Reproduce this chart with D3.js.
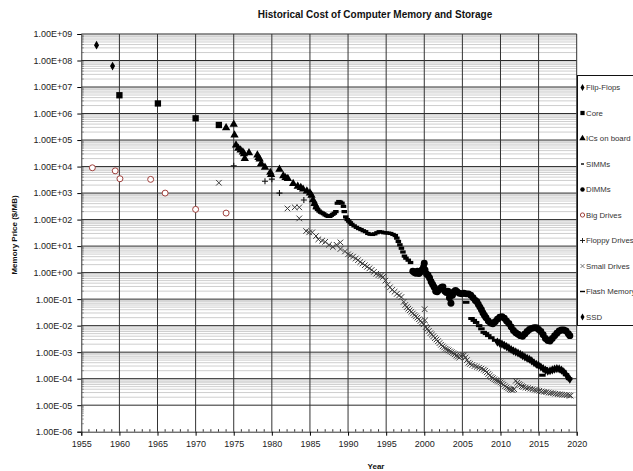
<!DOCTYPE html>
<html><head><meta charset="utf-8">
<script src="https://cdn.jsdelivr.net/npm/d3@7"></script>
<style>body{margin:0;background:#fff}svg{display:block}text{font-family:"Liberation Sans",Arial,sans-serif}</style>
</head><body><svg id="c" width="633" height="471"></svg>
<script>
// ---------- DATA ----------
const title = "Historical Cost of Computer Memory and Storage";
const yTitle = "Memory Price ($/MB)";
const xTitle = "Year";
const xTickValues = [1955,1960,1965,1970,1975,1980,1985,1990,1995,2000,2005,2010,2015,2020];
const xTickLabels = ["1955","1960","1965","1970","1975","1980","1985","1990","1995","2000","2005","2010","2015","2020"];
const yTickValues = [1e9,1e8,1e7,1e6,1e5,1e4,1e3,1e2,1e1,1e0,1e-1,1e-2,1e-3,1e-4,1e-5,1e-6];
const yTickLabels = ["1.00E+09","1.00E+08","1.00E+07","1.00E+06","1.00E+05","1.00E+04","1.00E+03","1.00E+02","1.00E+01","1.00E+00","1.00E-01","1.00E-02","1.00E-03","1.00E-04","1.00E-05","1.00E-06"];
const seriesNames = ["Flip-Flops","Core","ICs on board","SIMMs","DIMMs","Big Drives","Floppy Drives","Small Drives","Flash Memory","SSD"];

const flipFlops = [[1957.0,3.8e8],[1959.1,6.2e7]];
const core = [[1960.0,4.9e6],[1965.05,2.4e6],[1970.0,6.6e5],[1973.05,3.7e5]];
const icsOnBoard = [[1974.0,2.9e5],[1975.0,3.9e5],[1975.1,1.55e5],[1975.3,6.5e4],[1975.6,4.9e4],[1975.9,4.2e4],
 [1976.2,3.5e4],[1976.35,3.0e4],[1976.45,2.0e4],[1977.0,3.3e4],[1978.1,2.7e4],[1978.25,2.2e4],[1978.4,1.9e4],
 [1978.6,1.3e4],[1979.1,9.3e3],[1979.8,6.0e3],[1979.9,5.0e3],[1981.0,7.8e3],[1981.5,4.5e3],[1981.8,3.8e3],
 [1982.1,3.5e3],[1982.8,2.3e3],[1983.4,1.8e3],[1983.8,1.6e3],[1984.1,1.4e3],[1984.6,1.2e3],[1985.0,1.0e3],
 [1985.2,8.3e2],[1985.4,5.5e2],[1985.6,4.0e2],[1985.85,3.0e2]];
const simms = [[1985.6,400],[1985.8,280],[1986.0,240],[1986.2,210],[1986.4,190],[1986.6,178],[1986.8,166],
 [1987.0,150],[1987.2,141],[1987.4,132],[1987.6,132],[1987.8,145],[1988.0,158],[1988.2,174],[1988.4,200],
 [1988.6,415],[1988.8,480],[1989.0,455],[1989.2,415],[1989.4,316],[1989.5,200],[1989.7,126],[1989.9,100],
 [1990.1,87],[1990.3,76],[1990.5,66],[1990.8,58],[1991.1,51],[1991.4,46],[1991.7,42],[1992.0,38],[1992.3,35],
 [1992.6,30],[1992.9,28],[1993.2,27.5],[1993.5,29],[1993.8,32],[1994.1,35],[1994.4,34],[1994.7,32],[1995.0,31.6],
 [1995.3,31],[1995.6,30],[1995.9,27.5],[1996.2,25],[1996.4,20],[1996.6,15],[1996.8,11.2],[1997.0,8.3],
 [1997.2,6.0],[1997.4,4.2],[1997.6,3.5],[1997.9,2.95],[1998.2,2.4]];
const dimms = [[1998.5,1.12],[1998.7,1.0],[1998.9,0.95],[1999.1,1.12],[1999.3,0.93],[1999.5,1.05],[1999.7,1.26],
 [1999.9,1.58],[2000.0,2.24],[2000.1,1.26],[2000.3,0.89],[2000.5,0.79],[2000.7,0.63],[2000.9,0.45],[2001.1,0.355],
 [2001.3,0.28],[2001.5,0.2],[2001.7,0.19],[2001.9,0.22],[2002.1,0.25],[2002.3,0.28],[2002.45,0.29],[2002.7,0.2],
 [2002.9,0.178],[2003.1,0.2],[2003.3,0.112],[2003.5,0.07],[2003.7,0.14],[2003.9,0.19],[2004.1,0.21],[2004.3,0.19],
 [2004.6,0.166],[2004.9,0.158],[2005.2,0.166],[2005.5,0.158],[2005.8,0.158],[2006.1,0.141],[2006.4,0.112],
 [2006.7,0.089],[2006.9,0.079],[2007.1,0.063],[2007.3,0.05],[2007.5,0.04],[2007.7,0.03],[2007.9,0.024],[2008.1,0.02],
 [2008.4,0.015],[2008.7,0.0126],[2009.0,0.0117],[2009.3,0.0141],[2009.6,0.0174],[2009.9,0.0209],[2010.2,0.0219],
 [2010.5,0.019],[2010.8,0.0151],[2011.1,0.012],[2011.4,0.0089],[2011.7,0.0066],[2012.0,0.0054],[2012.3,0.0047],
 [2012.6,0.0042],[2012.9,0.004],[2013.2,0.0048],[2013.5,0.006],[2013.8,0.0071],[2014.1,0.0079],[2014.4,0.0083],
 [2014.7,0.0083],[2015.0,0.0072],[2015.3,0.006],[2015.6,0.0045],[2015.9,0.0033],[2016.2,0.00275],[2016.5,0.00263],
 [2016.8,0.0033],[2017.1,0.0042],[2017.4,0.0052],[2017.7,0.0063],[2018.0,0.0068],[2018.3,0.0069],[2018.6,0.0063],
 [2018.9,0.005],[2019.1,0.0042]];
const bigDrives = [[1956.45,9000],[1959.45,6900],[1960.07,3470],[1964.1,3290],[1966.0,1000],[1970.0,243],[1974.0,176]];
const floppyDrives = [[1975.0,1.07e4],[1979.1,2800],[1980.0,3350],[1981.0,1000],[1984.2,550]];
const smallDrives = [[1973.05,2450],[1982.05,263],[1983.0,290],[1983.6,290],[1983.6,111],[1984.5,37],[1984.9,33],
 [1985.3,33],[1985.8,24],[1986.1,18],[1986.6,16],[1987.0,14.5],[1987.5,11.2],[1988.0,9.3],[1988.5,11.2],[1989.0,13.8],
 [1989.0,7.8],[1989.6,6.3],[1990.0,4.9],[1990.3,4.4],[1990.65,4.0],[1991.0,3.4],[1991.3,2.95],[1991.6,2.5],
 [1991.9,2.2],[1992.2,1.9],[1992.5,1.66],[1992.8,1.45],[1993.1,1.26],[1993.4,1.07],[1993.7,0.91],[1994.0,0.81],
 [1994.3,0.76],[1994.6,0.69],[1994.9,0.5],[1995.2,0.355],[1995.5,0.28],[1995.8,0.224],[1996.1,0.19],[1996.4,0.158],
 [1996.7,0.138],[1997.0,0.12],[1997.3,0.079],[1997.5,0.06],[1997.7,0.05],[1997.9,0.0437],[1998.1,0.038],[1998.3,0.033],
 [1998.5,0.0288],[1998.7,0.0251],[1998.9,0.0224],[1999.1,0.02],[1999.3,0.0174],[1999.5,0.0151],[1999.7,0.0132],
 [1999.9,0.0112],[2000.05,0.0417],[2000.1,0.0158],[2000.2,0.0089],[2000.4,0.0076],[2000.6,0.0063],[2000.8,0.0052],
 [2001.0,0.0046],[2001.2,0.004],[2001.4,0.0034],[2001.6,0.003],[2001.8,0.0026],[2002.0,0.0022],[2002.2,0.0019],
 [2002.4,0.00166],[2002.6,0.0015],[2002.8,0.00135],[2003.0,0.00126],[2003.2,0.00117],[2003.4,0.00107],[2003.6,0.001],
 [2003.8,0.00091],[2004.0,0.00083],[2004.2,0.00074],[2004.4,0.00068],[2004.6,0.00063],[2004.8,0.00071],[2005.0,0.00079],
 [2005.2,0.00076],[2005.4,0.00063],[2005.6,0.0005],[2005.8,0.0004],[2006.0,0.00036],[2006.3,0.00033],[2006.6,0.0003],
 [2006.9,0.00028],[2007.2,0.00026],[2007.5,0.00024],[2007.8,0.00022],[2008.0,0.0002],[2008.2,0.000174],[2008.4,0.000151],
 [2008.6,0.000132],[2008.8,0.000115],[2009.0,0.000105],[2009.2,9.5e-5],[2009.4,8.7e-5],[2009.6,8.3e-5],[2009.8,7.8e-5],
 [2010.0,7.2e-5],[2010.2,6.6e-5],[2010.4,5.9e-5],[2010.6,5.2e-5],[2010.8,4.7e-5],[2011.0,4.3e-5],[2011.2,4.0e-5],
 [2011.4,3.8e-5],[2011.6,3.7e-5],[2011.8,4.0e-5],[2012.0,8.3e-5],[2012.2,7.1e-5],[2012.4,6.3e-5],[2012.6,5.8e-5],
 [2012.8,5.2e-5],[2013.0,4.9e-5],[2013.3,4.6e-5],[2013.6,4.4e-5],[2013.9,4.2e-5],[2014.2,4.0e-5],[2014.5,3.8e-5],
 [2014.8,3.6e-5],[2015.1,3.5e-5],[2015.4,3.3e-5],[2015.7,3.2e-5],[2016.0,3.1e-5],[2016.3,2.95e-5],[2016.6,2.9e-5],
 [2016.9,2.8e-5],[2017.2,2.7e-5],[2017.5,2.6e-5],[2017.8,2.57e-5],[2018.1,2.5e-5],[2018.4,2.45e-5],[2018.7,2.4e-5],
 [2019.0,2.35e-5],[2019.2,2.3e-5]];
const flashMemory = [[2005.5,0.076],[2006.2,0.0186],[2006.5,0.0158],[2006.8,0.0132],[2007.2,0.01],[2007.5,0.0076],
 [2007.8,0.0056],[2008.1,0.005],[2008.4,0.0042],[2008.8,0.0035],[2009.3,0.0028],[2009.7,0.0025],[2010.0,0.0022],
 [2010.4,0.0019],[2010.8,0.00158],[2011.2,0.00135],[2011.6,0.00112],[2012.0,0.001],[2012.4,0.00089],[2012.8,0.00076],
 [2013.2,0.00066],[2013.6,0.00056],[2014.0,0.00048],[2014.4,0.0004],[2014.8,0.00034],[2015.2,0.00028],[2015.5,0.000135],
 [2015.8,0.00024],[2016.2,0.0002],[2016.6,0.0002],[2017.0,0.000224],[2017.4,0.00024],[2017.8,0.00023],[2018.2,0.00019],
 [2018.6,0.000141],[2019.0,0.0001]];
const ssd = [[2009.6,0.0024],[2009.9,0.0022],[2010.2,0.002],[2010.5,0.0018],[2010.8,0.00162],[2011.1,0.00145],
 [2011.4,0.00126],[2011.7,0.00112],[2012.0,0.00102],[2012.3,0.00093],[2012.6,0.00083],[2012.9,0.00074],[2013.2,0.00066],
 [2013.5,0.00059],[2013.8,0.00054],[2014.1,0.00047],[2014.4,0.0004],[2014.7,0.00035],[2015.0,0.00032],[2015.3,0.000275],
 [2015.6,0.00024],[2015.9,0.00021],[2016.2,0.00019],[2016.5,0.0002],[2016.8,0.000214],[2017.1,0.00023],[2017.4,0.00024],
 [2017.7,0.000234],[2018.0,0.00021],[2018.3,0.00018],[2018.6,0.000145],[2018.9,0.000112],[2019.1,9.5e-5]];

// ---------- CHART ----------
const svg = d3.select("#c");
const x = d3.scaleLinear().domain([1955,2020]).range([81.3,576.7]);
const y = d3.scaleLog().domain([1e-6,1e9]).range([431.7,34]);
const L = x.range()[0], R = x.range()[1], T = y.range()[1], B = y.range()[0];

const grid = svg.append("g");
const minorVals = [];
for (let k=-5;k<=8;k++) for (let m=2;m<=9;m++) minorVals.push(m*Math.pow(10,k));
grid.selectAll(".mn").data(minorVals).join("line")
  .attr("x1",L).attr("x2",R).attr("y1",d=>y(d)).attr("y2",d=>y(d))
  .attr("stroke","#c8c8c8").attr("stroke-width",0.9);
grid.selectAll(".mj").data(yTickValues.slice(0,-1)).join("line")
  .attr("x1",L).attr("x2",R).attr("y1",d=>y(d)).attr("y2",d=>y(d))
  .attr("stroke","#2a2a2a").attr("stroke-width",1);
grid.selectAll(".vv").data(xTickValues.slice(1)).join("line")
  .attr("x1",d=>x(d)).attr("x2",d=>x(d)).attr("y1",T).attr("y2",B)
  .attr("stroke","#333").attr("stroke-width",1);

const xAxis = svg.append("g").attr("transform",`translate(0,${B})`)
  .call(d3.axisBottom(x).tickValues(xTickValues).tickFormat((d,i)=>xTickLabels[i]).tickSize(4).tickPadding(5));
xAxis.select(".domain").attr("stroke","#333");
xAxis.selectAll("text").attr("font-size",9).attr("fill","#222").attr("font-family","Liberation Sans, Arial, sans-serif");
const minorYears = d3.range(1956,2020).filter(v=>v%5!==0);
svg.append("g").selectAll("line").data(minorYears).join("line")
  .attr("x1",d=>x(d)).attr("x2",d=>x(d)).attr("y1",B).attr("y2",B-2.5).attr("stroke","#333");

const yAxis = svg.append("g").attr("transform",`translate(${L},0)`)
  .call(d3.axisLeft(y).tickValues(yTickValues).tickFormat((d,i)=>yTickLabels[i]).tickSize(4).tickPadding(5));
yAxis.select(".domain").attr("stroke","#333");
yAxis.selectAll("text").attr("font-size",9).attr("fill","#222").attr("font-family","Liberation Sans, Arial, sans-serif");
const minorYTicks = [];
for (let k=-6;k<=8;k++) for (let m=2;m<=9;m++) minorYTicks.push(m*Math.pow(10,k));
svg.append("g").selectAll("line").data(minorYTicks).join("line")
  .attr("x1",L).attr("x2",L+2.5).attr("y1",d=>y(d)).attr("y2",d=>y(d)).attr("stroke","#666").attr("stroke-width",0.7);

svg.append("text").attr("x",375).attr("y",18).attr("text-anchor","middle")
  .attr("font-size",10).attr("font-weight","bold").attr("fill","#111").text(title);
svg.append("text").attr("transform","translate(17,235) rotate(-90)").attr("text-anchor","middle")
  .attr("font-size",8).attr("font-weight","bold").attr("fill","#111").text(yTitle);
svg.append("text").attr("x",376).attr("y",469).attr("text-anchor","middle")
  .attr("font-size",8).attr("font-weight","bold").attr("fill","#111").text(xTitle);

const sym = (type,size)=>d3.symbol().type(type).size(size)();
const marks = svg.append("g");
function drawSym(data,type,size,fill,stroke){
  marks.append("g").selectAll("path").data(data).join("path")
    .attr("transform",d=>`translate(${x(d[0])},${y(d[1])})`)
    .attr("d",sym(type,size)).attr("fill",fill||"none").attr("stroke",stroke||"none");
}
function drawDash(data,w,h,color){
  marks.append("g").selectAll("rect").data(data).join("rect")
    .attr("x",d=>x(d[0])-w/2).attr("y",d=>y(d[1])-h/2).attr("width",w).attr("height",h).attr("fill",color);
}
function drawCross(data,s,color,times,sw){
  const p = times ? `M${-s},${-s}L${s},${s}M${-s},${s}L${s},${-s}` : `M${-s},0L${s},0M0,${-s}L0,${s}`;
  marks.append("g").selectAll("path").data(data).join("path")
    .attr("transform",d=>`translate(${x(d[0])},${y(d[1])})`)
    .attr("d",p).attr("stroke",color).attr("stroke-width",sw).attr("fill","none");
}
drawCross(smallDrives,2.8,"#3a3a3a",true,1.0);
drawSym(bigDrives,d3.symbolCircle,28,"#fff","#a0403c");
drawCross(floppyDrives,3,"#111",false,1.1);
drawSym(flipFlops,d3.symbolDiamond,22,"#000");
drawSym(core,d3.symbolSquare,40,"#000");
drawSym(icsOnBoard,d3.symbolTriangle,30,"#000");
drawDash(simms,5.5,3.2,"#000");
drawSym(dimms,d3.symbolCircle,38,"#000");
drawDash(flashMemory,6.5,3,"#000");
drawSym(ssd,d3.symbolDiamond,24,"#000");

const lg = svg.append("g");
lg.append("rect").attr("x",577.5).attr("y",75.5).attr("width",80).attr("height",250).attr("fill","#fff").attr("stroke","#111");
const ly = i=>87.5+i*25.5;
const lx = 582.5;
seriesNames.forEach((n,i)=>{
  lg.append("text").attr("x",586).attr("y",ly(i)).attr("dy","0.35em").attr("font-size",7.8).attr("fill","#333").text(n);
});
const lm = lg.append("g");
const put = (i,type,size,fill,stroke)=>lm.append("path").attr("transform",`translate(${lx},${ly(i)})`).attr("d",sym(type,size)).attr("fill",fill).attr("stroke",stroke||"none");
put(0,d3.symbolDiamond,14,"#000");
put(1,d3.symbolSquare,18,"#000");
put(2,d3.symbolTriangle,18,"#000");
lm.append("rect").attr("x",lx-1.5).attr("y",ly(3)-0.7).attr("width",3).attr("height",1.4).attr("fill","#000");
put(4,d3.symbolCircle,16,"#000");
put(5,d3.symbolCircle,14,"#fff","#a0403c");
lm.append("path").attr("transform",`translate(${lx},${ly(6)})`).attr("d","M-2.5,0L2.5,0M0,-2.5L0,2.5").attr("stroke","#111").attr("stroke-width",0.9);
lm.append("path").attr("transform",`translate(${lx},${ly(7)})`).attr("d","M-2,-2L2,2M-2,2L2,-2").attr("stroke","#555").attr("stroke-width",0.8);
lm.append("rect").attr("x",lx-2.5).attr("y",ly(8)-0.7).attr("width",5).attr("height",1.4).attr("fill","#000");
put(9,d3.symbolDiamond,14,"#000");
</script></body></html>
